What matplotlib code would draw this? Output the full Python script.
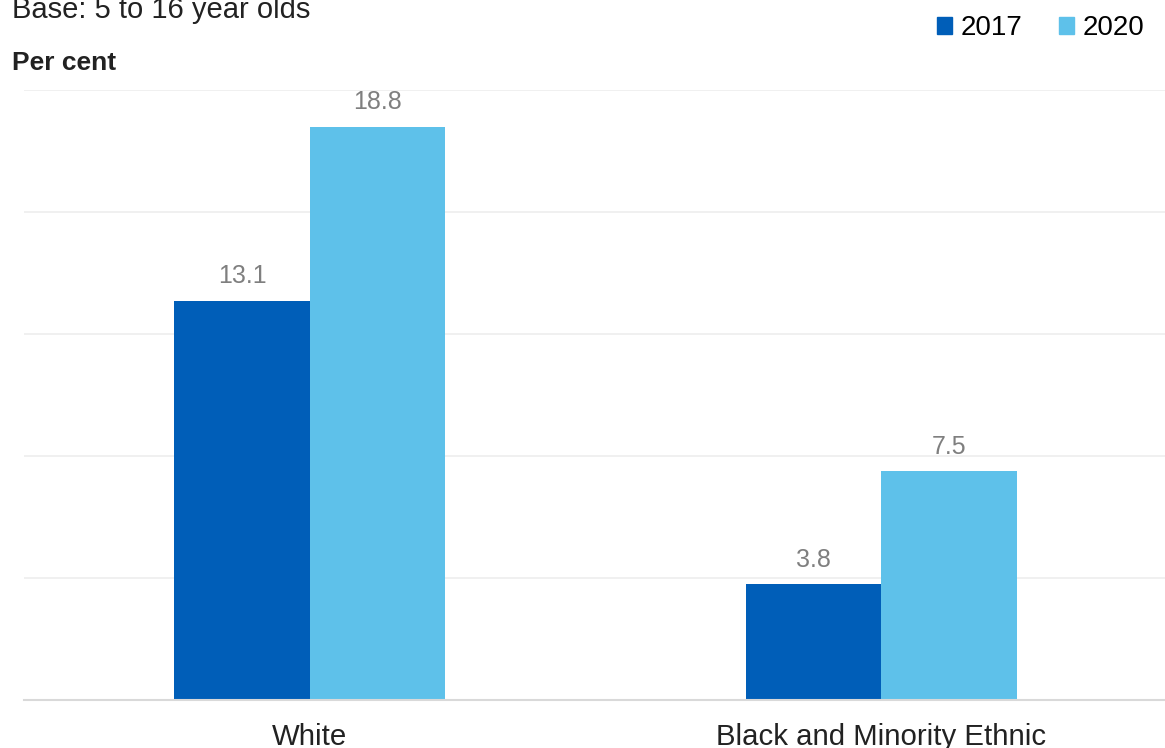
import matplotlib.pyplot as plt
import numpy as np
from matplotlib.patches import Patch

plt.rcParams['font.family'] = ['Liberation Sans', 'DejaVu Sans']

# data
groups = ['White', 'Black and Minority Ethnic']
years = ['2017', '2020']
vals_2017 = [13.1, 3.8]
vals_2020 = [18.8, 7.5]

col_2017 = '#005EB8'
col_2020 = '#5EC1EA'

fig = plt.figure(figsize=(11.65, 7.48), dpi=100)
ax = fig.add_axes([24 / 1165, 1 - 700 / 748, 1143 / 1165, (700 - 90.4) / 748])

x = np.arange(len(groups))
width = 0.237

bars1 = ax.bar(x - width / 2, vals_2017, width, color=col_2017, label=years[0], zorder=3)
bars2 = ax.bar(x + width / 2, vals_2020, width, color=col_2020, label=years[1], zorder=3)

ax.set_xlim(-0.5, 1.5)
ax.set_ylim(0, 20)
ax.set_yticks([4, 8, 12, 16, 20])
ax.yaxis.grid(True, color='#efefef', linewidth=1.3, zorder=0)
ax.tick_params(axis='y', left=False, labelleft=False)
ax.set_xticks(x)
ax.set_xticklabels(groups, fontsize=21.2, color='#222222')
ax.tick_params(axis='x', length=0, pad=16.5)

for s in ['top', 'right', 'left']:
    ax.spines[s].set_visible(False)
ax.spines['bottom'].set_color('#d9d9d9')
ax.spines['bottom'].set_linewidth(1.5)
ax.spines['bottom'].set_zorder(4)


# value labels above the bars
def add_labels(bars):
    for bar in bars:
        h = bar.get_height()
        ax.annotate(f'{h:.1f}', (bar.get_x() + bar.get_width() / 2, h),
                    xytext=(0, 9), textcoords='offset points',
                    ha='center', va='bottom', fontsize=18, color='#7f7f7f')


add_labels(bars1)
add_labels(bars2)

fig.text(12 / 1165, 1 - 17.5 / 748, 'Base: 5 to 16 year olds', fontsize=21,
         color='#222222', va='baseline', ha='left')
fig.text(12 / 1165, 1 - 70 / 748, 'Per cent', fontsize=19, fontweight='bold',
         color='#222222', va='baseline', ha='left')

handles = [Patch(color=col_2017, label=years[0]), Patch(color=col_2020, label=years[1])]
fig.legend(handles=handles, loc='upper right', bbox_to_anchor=(1 - 10 / 1165, 1 - 4 / 748), ncol=2,
           frameon=False, fontsize=20, handlelength=0.55, handleheight=0.55,
           handletextpad=0.3, columnspacing=1.3, borderaxespad=0.0)

fig.savefig('out.png', dpi=100)
